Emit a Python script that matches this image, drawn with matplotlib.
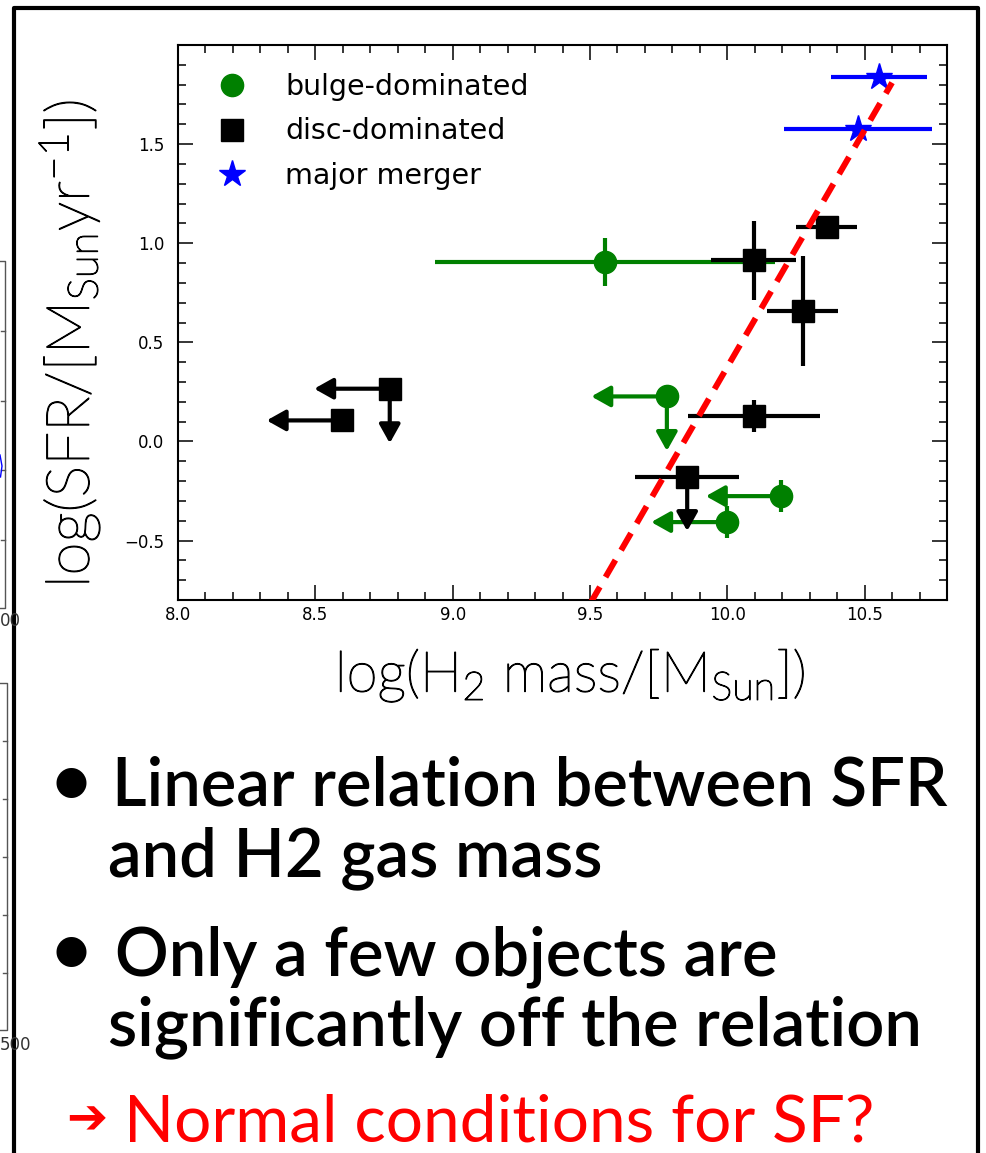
import matplotlib
matplotlib.use("Agg")
import matplotlib.pyplot as plt
import matplotlib.patheffects as pe
from matplotlib.ticker import MultipleLocator
from matplotlib.lines import Line2D
from matplotlib.textpath import TextPath
from matplotlib.font_manager import FontProperties

# ---------------- data ----------------
bulge_x      = [9.555, 9.780, 10.197, 9.998]
bulge_y      = [0.906, 0.227, -0.276, -0.407]
bulge_xerr   = [0.62, 0.0, 0.0, 0.0]
bulge_yerr   = [0.12, 0.04, 0.08, 0.08]
bulge_xupper = [False, True, True, True]
bulge_yupper = [False, True, False, False]

disc_x      = [10.362, 10.096, 10.274, 10.096, 9.854, 8.771, 8.598]
disc_y      = [1.082, 0.914, 0.658, 0.128, -0.177, 0.266, 0.106]
disc_xerr   = [0.11, 0.155, 0.13, 0.24, 0.19, 0.0, 0.0]
disc_yerr   = [0.0, 0.20, 0.275, 0.08, 0.0, 0.0, 0.0]
disc_xupper = [False, False, False, False, False, True, True]
disc_yupper = [False, False, False, False, True, True, False]

merger_x      = [10.551, 10.477]
merger_y      = [1.840, 1.576]
merger_xerr   = [0.175, 0.27]
merger_yerr   = [0.0, 0.0]
merger_xupper = [False, False]
merger_yupper = [False, False]

fit_x = [9.50, 10.60]
fit_y = [-0.82, 1.81]

limit_len = 0.275

legend_labels = ["bulge-dominated", "disc-dominated", "major merger"]
x_ticks = [8.0, 8.5, 9.0, 9.5, 10.0, 10.5]
y_ticks = [-0.5, 0.0, 0.5, 1.0, 1.5]
x_limits = (8.0, 10.8)
y_limits = (-0.8, 2.0)

x_label = r"log(H$_2$ mass/[M$_{Sun}$])"
y_label = r"log(SFR/[M$_{Sun}$yr$^{-1}$])"

bold_lines = ["Linear relation between SFR", "and H2 gas mass",
              "Only a few objects are", "significantly off the relation"]
conclusion = "Normal conditions for SF?"

# ---------------- figure ----------------
W, H, DPI = 986, 1153, 100
PX = DPI / 72.0
plt.rcParams["mathtext.default"] = "regular"
fig = plt.figure(figsize=(W / DPI, H / DPI), dpi=DPI, facecolor="white")


def fxy(x, y):
    return x / W, 1 - y / H


ax = fig.add_axes([178 / W, 1 - 600 / H, (947 - 178) / W, (600 - 45) / H])
ax.set_xlim(*x_limits)
ax.set_ylim(*y_limits)
ax.set_xticks(x_ticks)
ax.set_yticks(y_ticks)
ax.xaxis.set_minor_locator(MultipleLocator(0.1))
ax.yaxis.set_minor_locator(MultipleLocator(0.1))
ax.tick_params(which="both", direction="in", top=True, right=True,
               labelsize=12, width=1.1, colors="black")
ax.tick_params(which="major", length=10.5)
ax.tick_params(which="minor", length=5.5)
ax.tick_params(axis="x", pad=4)
ax.tick_params(axis="y", pad=10)
for sp in ax.spines.values():
    sp.set_linewidth(1.5)


def arrow(x0, y0, x1, y1, color):
    ax.annotate("", xy=(x1, y1), xytext=(x0, y0),
                arrowprops=dict(arrowstyle="-|>,head_length=0.75,head_width=0.42",
                                color=color, lw=3, shrinkA=0, shrinkB=0,
                                mutation_scale=15),
                zorder=2)


def draw_group(x, y, xerr, yerr, xup, yup, color, marker, ms, label):
    ax.errorbar(x, y, xerr=xerr, yerr=yerr, fmt="none", ecolor=color,
                elinewidth=3, capsize=0, zorder=2)
    for xi, yi, a, b in zip(x, y, xup, yup):
        if a:
            arrow(xi, yi, xi - limit_len, yi, color)
        if b:
            arrow(xi, yi, xi, yi - limit_len, color)
    ax.plot(x, y, linestyle="none", marker=marker, ms=ms, color=color,
            mec=color, label=label, zorder=3)


draw_group(bulge_x, bulge_y, bulge_xerr, bulge_yerr, bulge_xupper, bulge_yupper,
           "#008000", "o", 16, legend_labels[0])
draw_group(disc_x, disc_y, disc_xerr, disc_yerr, disc_xupper, disc_yupper,
           "black", "s", 16, legend_labels[1])
draw_group(merger_x, merger_y, merger_xerr, merger_yerr, merger_xupper, merger_yupper,
           "#0000ff", "*", 20, legend_labels[2])

ax.plot(fit_x, fit_y, color="#ff0000", lw=4.3, dashes=(3.3, 1.9), zorder=5)

fs_leg = 20.5
ax.legend(loc="upper left", frameon=False, fontsize=fs_leg, handlelength=1.0,
          handletextpad=1.36, borderpad=0, borderaxespad=0, labelspacing=0.59,
          bbox_to_anchor=((232 - 14.2 - 178) / 769, 1 - (72.7 - 45) / 555),
          numpoints=1)

label_fx = [pe.withStroke(linewidth=0.9, foreground="black")]
ax.set_xlabel(x_label, fontfamily="Lato", fontweight="light", fontsize=30,
              path_effects=label_fx)
ax.set_ylabel(y_label, fontfamily="Lato", fontweight="light", fontsize=30,
              path_effects=label_fx)
ax.xaxis.label.set_verticalalignment("baseline")
ax.xaxis.set_label_coords((570 - 178) / 769, (600 - 692) / 555)
ax.yaxis.set_label_coords((102 - 178) / 769, (600 - 344) / 555)

fig.canvas.draw()
r = fig.canvas.get_renderer()
for _ in range(3):
    bb = ax.xaxis.label.get_window_extent(r)
    ax.xaxis.label.set_fontsize(ax.xaxis.label.get_fontsize() * 470 / bb.width)
    bb = ax.yaxis.label.get_window_extent(r)
    ax.yaxis.label.set_fontsize(ax.yaxis.label.get_fontsize() * 488 / bb.height)
    fig.canvas.draw()


# ---------------- slide text ----------------
def ink_em(s, fp):
    e = TextPath((0, 0), s, size=1, prop=fp).get_extents()
    return e.x0, e.x1, e.y0, e.y1


def put(s, left_px, base_px, fs, fp, color="black"):
    x0, x1, y0, y1 = ink_em(s, fp)
    p = fp.copy()
    p.set_size(fs)
    fig.text(*fxy(left_px - x0 * fs * PX, base_px), s, fontproperties=p,
             color=color, ha="left", va="baseline")


def put_centered(s, cx, cy, width_px, fp, color="black"):
    x0, x1, y0, y1 = ink_em(s, fp)
    fs = width_px / ((x1 - x0) * PX)
    left = cx - width_px / 2
    base = cy + (y0 + y1) / 2 * fs * PX
    put(s, left, base, fs, fp, color)


fp_bold = FontProperties(family="Lato", weight="semibold")
fp_reg = FontProperties(family="Lato", weight="normal")

w1 = ink_em(bold_lines[0], fp_bold)
w4 = ink_em(bold_lines[3], fp_bold)
fs_bold = 0.5 * (817 / ((w1[1] - w1[0]) * PX) + 819 / ((w4[1] - w4[0]) * PX))

put(bold_lines[0], 118, 805, fs_bold, fp_bold)
put(bold_lines[1], 110, 876, fs_bold, fp_bold)
put(bold_lines[2], 118, 975, fs_bold, fp_bold)
put(bold_lines[3], 110, 1045, fs_bold, fp_bold)

put_centered("\u2022", 71, 783, 30, fp_reg)
put_centered("\u2022", 71, 952, 30, fp_reg)

wr = ink_em(conclusion, fp_reg)
fs_red = 742 / ((wr[1] - wr[0]) * PX)
put(conclusion, 130, 1142, fs_red, fp_reg, "#ff0000")
put_centered("\u2794", 87, 1118, 36, FontProperties(family="DejaVu Sans", weight="bold"),
             "#ff0000")


# ---------------- slide frame and neighbouring slide fragment ----------------
def pline(xs, ys, **kw):
    fig.add_artist(Line2D([x / W for x in xs], [1 - y / H for y in ys],
                          transform=fig.transFigure, **kw))


pline([14, 14, 978, 978], [1165, 8, 8, 1165], color="black", lw=3)

frag = dict(color="#555555", lw=1.0)
pline([-5, 5, 5, -5], [261, 261, 608, 608], **frag)
for yy in [331, 401, 470, 540]:
    pline([5, 1], [yy, yy], **frag)
pline([-5, 7, 7, -5], [683, 683, 1030, 1030], **frag)
for yy in [741, 799, 857, 915, 973]:
    pline([7, 3], [yy, yy], **frag)
pline([0, 2, 0.5], [455, 466, 477], color="#0000ff", lw=1.0)
fig.text(*fxy(21, 621), "00", fontsize=12, color="#333333", ha="right", va="center")
fig.text(*fxy(31, 1045), "500", fontsize=12, color="#333333", ha="right", va="center")

fig.savefig("out.png", dpi=DPI, facecolor="white")
